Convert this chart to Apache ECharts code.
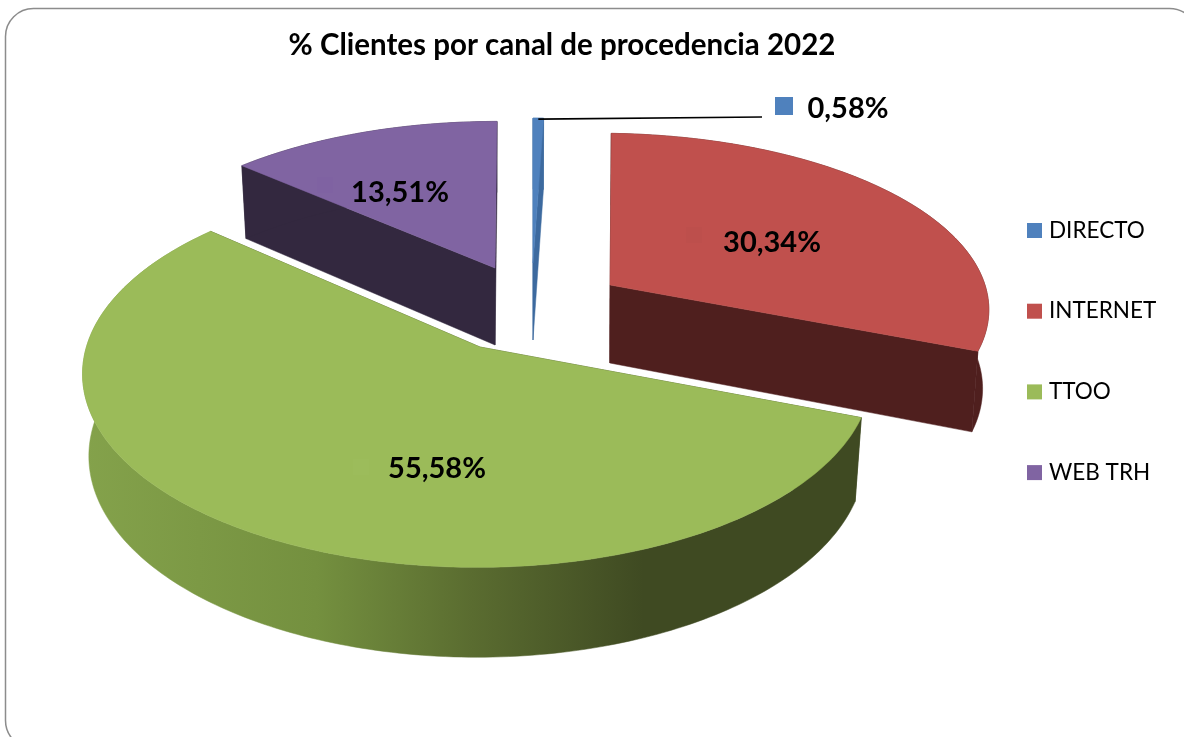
<!DOCTYPE html>
<html>
<head>
<meta charset="utf-8">
<title>% Clientes por canal de procedencia 2022</title>
<style>
  html, body { margin: 0; padding: 0; background: #fff; }
  #chart { width: 1184px; height: 737px; }
</style>
<script src="https://cdn.jsdelivr.net/npm/echarts@6/dist/echarts.min.js"></script>
</head>
<body>
<div id="chart"></div>
<script>
const titleText = '% Clientes por canal de procedencia 2022'
const categories = ['DIRECTO', 'INTERNET', 'TTOO', 'WEB TRH']
const shares = [0.58, 30.34, 55.58, 13.51]

const topColors = ['#4f81bd', '#c0504d', '#9bbb59', '#8064a2']
const sideColors = ['#3d6a9f', '#4f1f1e', '#3f4a22', '#33283f']

// 每块扇形的椭圆中心、半径(拉开后的位置不同)
const centerX = [533, 599, 477, 497]
const centerY = [263, 285, 345, 268]
const radiusX = [345, 386, 390, 382]
const radiusY = [172, 173, 189, 174]
const perspective = [0.187, 0.14, 0.15, 0.187]
const depth = [77, 78, 81, 77]
const apexShift = [[0, 0], [11, 0], [3, 2], [-2, 0]]
const labelPos = [[848, 109], [772, 243], [437, 469], [400, 193]]
const keyPos = [[784, 106], [694, 235], [361, 467], [325, 185]]
const keyColors = ['#4f81bd', '#bd4f4c', '#9cbc5b', '#7f62a2']
const paintOrder = [3, 2, 4, 5]

const bottomScaleX = 0.984
const bottomScaleY = 1.04

const total = shares.reduce((a, b) => a + b, 0)

function startAngle(idx) {
  let sum = 0
  for (let i = 0; i < idx; i++) sum += shares[i]
  return sum / total * 360
}

// 圆上一点投影到屏幕,近大远小
function project(idx, deg) {
  const rad = deg * Math.PI / 180
  const u = Math.sin(rad)
  const v = -Math.cos(rad)
  const w = 1 - perspective[idx] * v
  return [radiusX[idx] * u / w, radiusY[idx] * v / w]
}

function toTop(idx, p) {
  return [centerX[idx] + p[0], centerY[idx] + p[1]]
}

function toBottom(idx, p) {
  return [centerX[idx] + p[0] * bottomScaleX, centerY[idx] + depth[idx] + p[1] * bottomScaleY]
}

function renderSlice(params, api) {
  const idx = params.seriesIndex
  const from = startAngle(idx)
  const to = from + api.value(0) / total * 360
  const ring = []
  const steps = Math.max(2, Math.ceil(to - from))
  for (let i = 0; i <= steps; i++) {
    ring.push(project(idx, from + (to - from) * i / steps))
  }
  const apex = [apexShift[idx][0], apexShift[idx][1]]
  const first = ring[0]
  const last = ring[ring.length - 1]

  const wallFill = idx === 2 ? {
    type: 'linear',
    x: 0,
    y: 0,
    x2: 1,
    y2: 0,
    colorStops: [
      { offset: 0, color: '#84a24b' },
      { offset: 0.3, color: '#74903f' },
      { offset: 0.5, color: '#5a6c30' },
      { offset: 0.72, color: '#3f4a22' },
      { offset: 1, color: '#3f4a22' }
    ]
  } : sideColors[idx]

  const face = (points, fill) => ({
    type: 'polygon',
    shape: { points },
    style: { fill, stroke: fill, lineWidth: 0.5 }
  })

  const children = [
    face([toTop(idx, apex), toTop(idx, first), toBottom(idx, first), toBottom(idx, apex)], sideColors[idx]),
    face([toTop(idx, apex), toTop(idx, last), toBottom(idx, last), toBottom(idx, apex)], sideColors[idx]),
    face(ring.map(p => toTop(idx, p)).concat(ring.slice().reverse().map(p => toBottom(idx, p))), wallFill),
    face([toTop(idx, apex)].concat(ring.map(p => toTop(idx, p))), topColors[idx])
  ]

  const key = keyPos[idx]
  const keySize = idx === 0 ? 18 : 16
  children.push({
    type: 'rect',
    shape: { x: key[0] - keySize / 2, y: key[1] - keySize / 2, width: keySize, height: keySize },
    style: { fill: keyColors[idx] }
  })

  // 0,58% 的引导线
  if (idx === 0) {
    const tip = toTop(idx, project(idx, (from + to) / 2))
    children.push({
      type: 'line',
      shape: { x1: tip[0], y1: tip[1] + 1, x2: 762, y2: 117 },
      style: { stroke: '#000', lineWidth: 1.6 }
    })
  }

  children.push({
    type: 'text',
    x: labelPos[idx][0],
    y: labelPos[idx][1],
    style: {
      text: api.value(0).toFixed(2).replace('.', ',') + '%',
      fill: '#000',
      font: 'bold 29px Lato, "Open Sans", sans-serif',
      align: 'center',
      verticalAlign: 'middle'
    }
  })

  return { type: 'group', children }
}

const charts = echarts.init(document.getElementById('chart'))
charts.setOption({
  animation: false,
  backgroundColor: '#fff',
  title: {
    text: titleText,
    left: 557,
    top: 25,
    textAlign: 'center',
    textStyle: {
      color: '#000',
      fontFamily: 'Lato, "Open Sans", sans-serif',
      fontWeight: 'bold',
      fontSize: 29.5
    }
  },
  legend: {
    data: categories,
    orient: 'vertical',
    left: 1022,
    top: 214,
    itemWidth: 15,
    itemHeight: 15,
    itemGap: 57.7,
    icon: 'rect',
    selectedMode: false,
    textStyle: {
      color: '#000',
      fontFamily: 'Lato, "Open Sans", sans-serif',
      fontSize: 22.5,
      padding: [0, 0, 0, 2]
    }
  },
  graphic: [{
    type: 'rect',
    silent: true,
    z: -1,
    shape: { x: 5.5, y: 8.5, width: 1192, height: 740, r: 28 },
    style: { fill: 'none', stroke: '#8c8c8c', lineWidth: 1.5 }
  }],
  series: categories.map((name, i) => ({
    type: 'custom',
    name,
    coordinateSystem: 'none',
    z: paintOrder[i],
    itemStyle: { color: topColors[i] },
    renderItem: renderSlice,
    encode: { value: 0 },
    data: [[shares[i]]]
  }))
})
</script>
</body>
</html>
